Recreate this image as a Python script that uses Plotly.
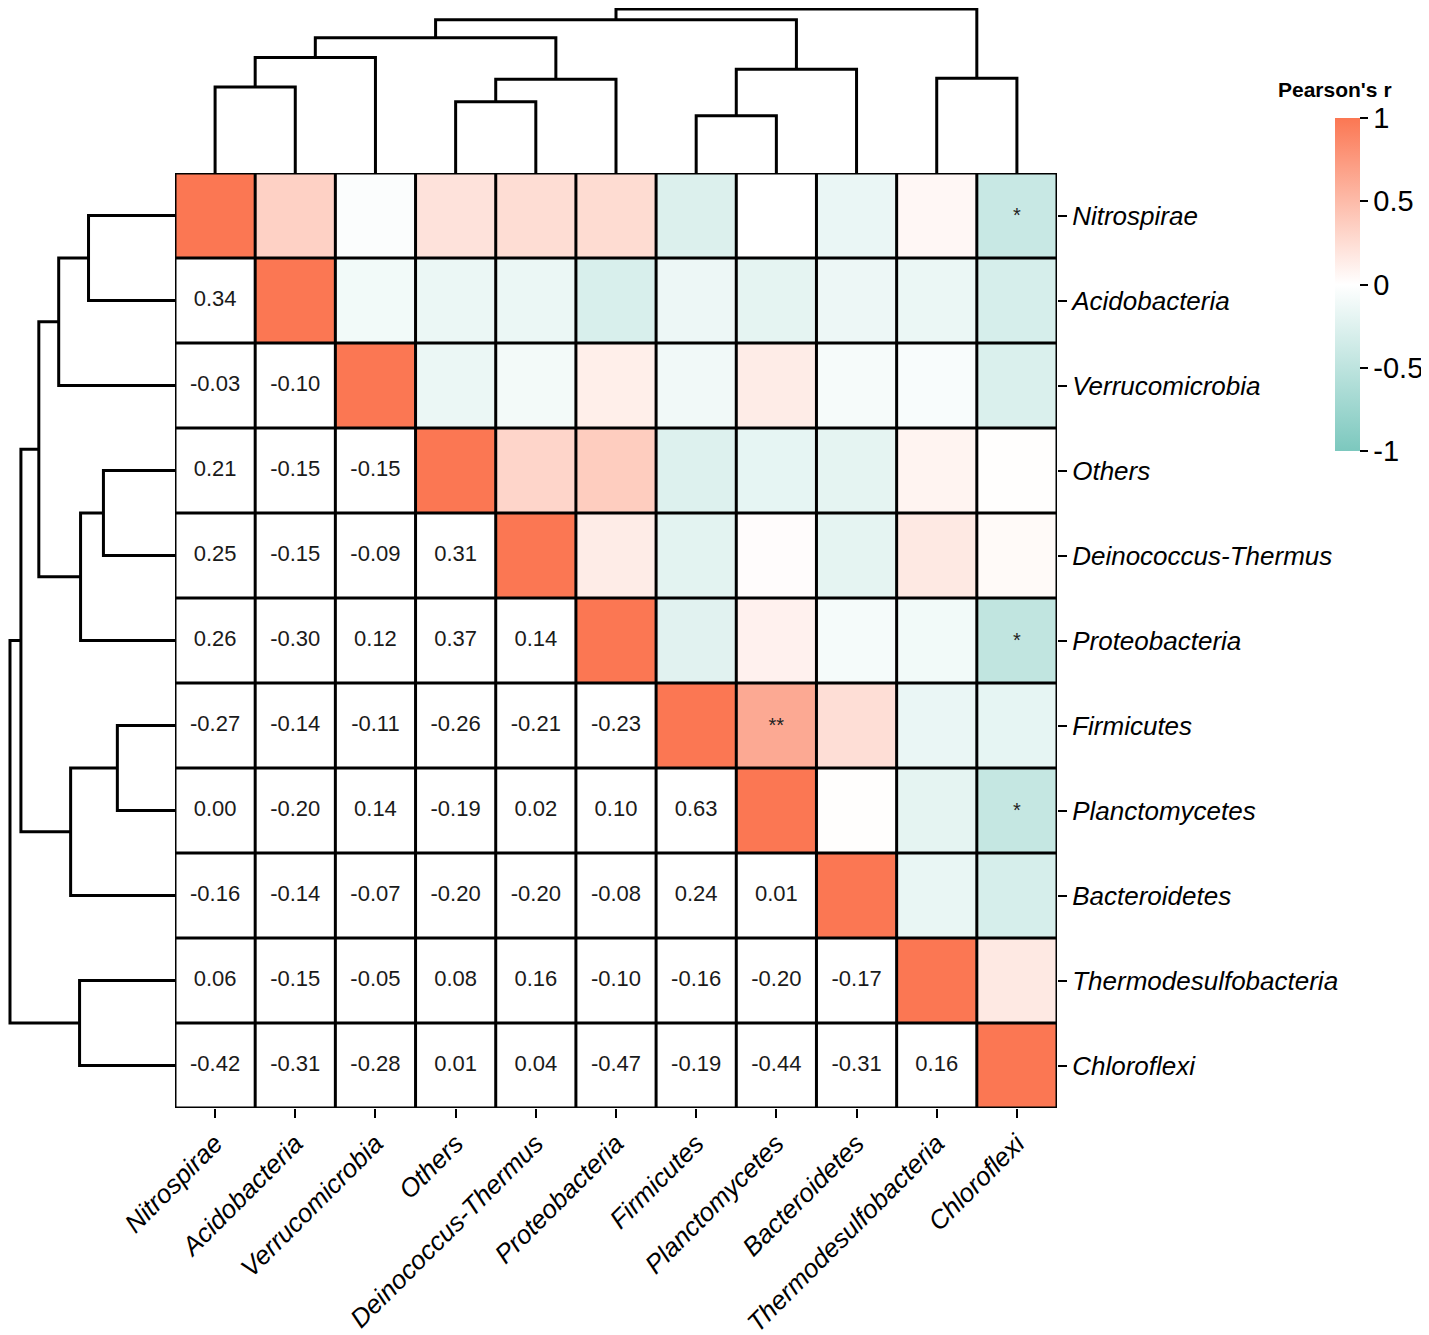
import plotly.graph_objects as go

W, H = 1429, 1335
OFF = 8  # page body margin

taxa = ["Nitrospirae", "Acidobacteria", "Verrucomicrobia", "Others",
        "Deinococcus-Thermus", "Proteobacteria", "Firmicutes", "Planctomycetes",
        "Bacteroidetes", "Thermodesulfobacteria", "Chloroflexi"]

# lower triangle of the Pearson correlation matrix (row by row, left of diagonal)
r_lower = [
    [],
    [0.34],
    [-0.03, -0.10],
    [0.21, -0.15, -0.15],
    [0.25, -0.15, -0.09, 0.31],
    [0.26, -0.30, 0.12, 0.37, 0.14],
    [-0.27, -0.14, -0.11, -0.26, -0.21, -0.23],
    [0.00, -0.20, 0.14, -0.19, 0.02, 0.10, 0.63],
    [-0.16, -0.14, -0.07, -0.20, -0.20, -0.08, 0.24, 0.01],
    [0.06, -0.15, -0.05, 0.08, 0.16, -0.10, -0.16, -0.20, -0.17],
    [-0.42, -0.31, -0.28, 0.01, 0.04, -0.47, -0.19, -0.44, -0.31, 0.16],
]

# significance marks shown in the upper triangle
sig_rows = ["Nitrospirae", "Proteobacteria", "Firmicutes", "Planctomycetes"]
sig_cols = ["Chloroflexi", "Chloroflexi", "Planctomycetes", "Chloroflexi"]
sig_marks = ["*", "*", "**", "*"]

# clustering merges (left, right, height); new clusters numbered from len(taxa)
link_left = [0, 11, 3, 13, 12, 6, 16, 15, 9, 18]
link_right = [1, 2, 4, 5, 14, 7, 8, 17, 10, 19]
link_height = [87, 117, 72, 95, 137, 58, 105, 155, 96, 166]

n = len(taxa)

# full symmetric matrix
r = [[1.0] * n for _ in range(n)]
for i in range(n):
    for j, v in enumerate(r_lower[i]):
        r[i][j] = v
        r[j][i] = v

z_upper = [[r[i][j] if j >= i else None for j in range(n)] for i in range(n)]


def dendro_lines():
    pos = {i: float(i) for i in range(n)}
    hgt = {i: 0.0 for i in range(n)}
    xs, ys = [], []
    for k, (a, b, h) in enumerate(zip(link_left, link_right, link_height)):
        xs += [pos[a], pos[a], pos[b], pos[b], None]
        ys += [hgt[a], h, h, hgt[b], None]
        pos[n + k] = (pos[a] + pos[b]) / 2
        hgt[n + k] = h
    return xs, ys


def px(x):
    return (x - OFF) / W


def py(y):
    return 1 - (y - OFF) / H


dx, dy = dendro_lines()

FONT = "Liberation Sans, Arial, sans-serif"

fig = go.Figure()

fig.add_trace(go.Heatmap(
    z=z_upper, x=list(range(n)), y=list(range(n)),
    zmin=-1, zmax=1,
    colorscale=[[0, "#7CC8BE"], [0.5, "#FFFFFF"], [1, "#FB7753"]],
    hoverongaps=False,
    colorbar=dict(
        x=px(1335), xanchor="left", y=py(118), yanchor="top",
        len=(451 - 118) / H, lenmode="fraction", thickness=25,
        xpad=0, ypad=0, outlinewidth=0,
        ticks="outside", ticklen=8, tickwidth=2, tickcolor="black",
        tickvals=[1, 0.5, 0, -0.5, -1], ticktext=["1", "0.5", "0", "-0.5", "-1"],
        tickfont=dict(size=29, color="black", family=FONT),
    ),
))

# numbers in the lower triangle
tx, ty, tt = [], [], []
for i in range(n):
    for j, v in enumerate(r_lower[i]):
        tx.append(j)
        ty.append(i)
        tt.append(f"{v:.2f}")
fig.add_trace(go.Scatter(x=tx, y=ty, text=tt, mode="text", hoverinfo="skip",
                         textfont=dict(size=22, color="#1a1a1a", family=FONT),
                         showlegend=False))

# stars in the upper triangle
fig.add_trace(go.Scatter(
    x=[taxa.index(c) for c in sig_cols],
    y=[taxa.index(rw) + 0.02 for rw in sig_rows],
    text=sig_marks, mode="text", hoverinfo="skip",
    textfont=dict(size=20, color="#222222", family=FONT), showlegend=False))

# dendrograms
fig.add_trace(go.Scatter(x=dx, y=dy, mode="lines", xaxis="x2", yaxis="y2",
                         line=dict(color="black", width=3), hoverinfo="skip",
                         showlegend=False))
fig.add_trace(go.Scatter(x=dy, y=dx, mode="lines", xaxis="x3", yaxis="y3",
                         line=dict(color="black", width=3), hoverinfo="skip",
                         showlegend=False))

# cell borders
shapes = []
for k in range(n + 1):
    shapes.append(dict(type="line", xref="x", yref="y", x0=k - 0.5, x1=k - 0.5,
                       y0=-0.5, y1=n - 0.5, line=dict(color="black", width=3)))
    shapes.append(dict(type="line", xref="x", yref="y", y0=k - 0.5, y1=k - 0.5,
                       x0=-0.5, x1=n - 0.5, line=dict(color="black", width=3)))

hx = [px(175), px(1057)]
hy = [py(1108), py(173)]
italic = [f"<i>{t}</i>" for t in taxa]

fig.update_layout(
    width=W, height=H,
    margin=dict(l=0, r=0, t=0, b=0, autoexpand=False),
    paper_bgcolor="white", plot_bgcolor="white",
    font=dict(family=FONT, color="black"),
    shapes=shapes,
    xaxis=dict(domain=hx, range=[-0.5, n - 0.5], tickvals=list(range(n)),
               ticktext=italic, tickangle=-45, ticks="outside", ticklen=9,
               tickwidth=2, tickcolor="black", showgrid=False, zeroline=False,
               showline=False, automargin=False,
               tickfont=dict(size=26, color="black"), anchor="y"),
    yaxis=dict(domain=hy, range=[n - 0.5, -0.5], tickvals=list(range(n)),
               ticktext=italic, side="right", ticks="outside", ticklen=9,
               tickwidth=2, tickcolor="black", showgrid=False, zeroline=False,
               showline=False, automargin=False,
               tickfont=dict(size=26, color="black"), anchor="x"),
    xaxis2=dict(domain=hx, range=[-0.5, n - 0.5], visible=False, anchor="y2"),
    yaxis2=dict(domain=[hy[1], 1], range=[0, 167], visible=False, anchor="x2"),
    xaxis3=dict(domain=[0, hx[0]], range=[168, 0], visible=False, anchor="y3"),
    yaxis3=dict(domain=hy, range=[n - 0.5, -0.5], visible=False, anchor="x3"),
    annotations=[dict(text="<b>Pearson's r</b>", x=px(1335), y=py(103),
                      xref="paper", yref="paper", xanchor="center", yanchor="bottom",
                      showarrow=False, font=dict(size=21, color="black"))],
)

fig.write_html("out.html")
